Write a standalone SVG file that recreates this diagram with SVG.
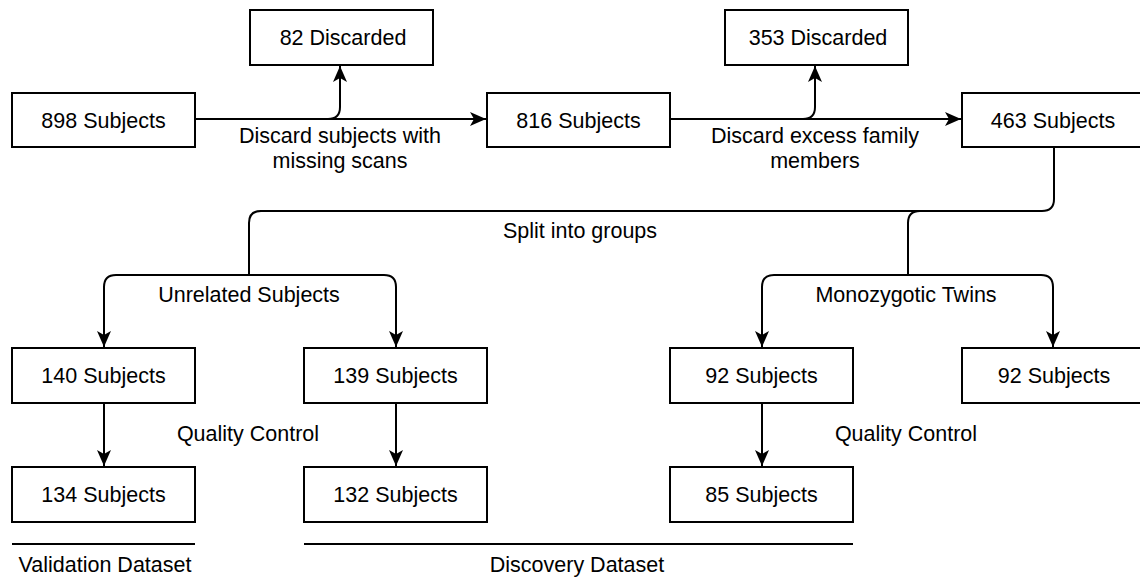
<svg xmlns="http://www.w3.org/2000/svg" width="1140" height="578" viewBox="0 0 1140 578">
<style>
.box{fill:#fff;stroke:#000;stroke-width:2}
.t{font-family:"Liberation Sans",Arial,Helvetica,sans-serif;font-size:21.5px;fill:#000;text-anchor:middle}
.c{fill:none;stroke:#000;stroke-width:2}
.a{marker-end:url(#arr)}
</style>
<defs>
<marker id="arr" viewBox="0 0 16 14" refX="16" refY="7" markerWidth="16" markerHeight="14" markerUnits="userSpaceOnUse" orient="auto">
<path d="M0,0 L16,7 L0,14 L4,7 Z" fill="#000"/>
</marker>
</defs>
<rect width="1140" height="578" fill="#fff"/>
<g id="connectors">
<path class="c a" d="M195,119 H486"/>
<path class="c a" d="M328,119 Q340,119 340,107 V66"/>
<path class="c a" d="M670,119 H961"/>
<path class="c a" d="M803,119 Q815,119 815,107 V66"/>
<path class="c" d="M1054,147 V199 Q1054,211 1042,211 H261 Q249,211 249,223 V275"/>
<path class="c" d="M920,211 Q908,211 908,223 V275"/>
<path class="c a" d="M249,275 H116 Q104,275 104,287 V347"/>
<path class="c a" d="M249,275 H384 Q396,275 396,287 V347"/>
<path class="c a" d="M908,275 H774 Q762,275 762,287 V347"/>
<path class="c a" d="M908,275 H1041 Q1053,275 1053,287 V347"/>
<path class="c a" d="M104,403 V466"/>
<path class="c a" d="M396,403 V466"/>
<path class="c a" d="M762,403 V466"/>
<text class="t" x="340" y="143">Discard subjects with</text>
<text class="t" x="340" y="168">missing scans</text>
<text class="t" x="815" y="143">Discard excess family</text>
<text class="t" x="815" y="168">members</text>
<text class="t" x="580" y="238">Split into groups</text>
<text class="t" x="249" y="302">Unrelated Subjects</text>
<text class="t" x="906" y="302">Monozygotic Twins</text>
<text class="t" x="248" y="441">Quality Control</text>
<text class="t" x="906" y="441">Quality Control</text>
</g>
<g id="n898"><rect class="box" x="12" y="93" width="183" height="54"/><text class="t" x="103.5" y="127.5">898 Subjects</text></g>
<g id="n82"><rect class="box" x="250" y="10" width="183" height="55"/><text class="t" x="343" y="45">82 Discarded</text></g>
<g id="n816"><rect class="box" x="487" y="93" width="183" height="54"/><text class="t" x="578.5" y="127.5">816 Subjects</text></g>
<g id="n353"><rect class="box" x="725" y="10" width="183" height="55"/><text class="t" x="818" y="45">353 Discarded</text></g>
<g id="n463"><rect class="box" x="962" y="93" width="184" height="54"/><text class="t" x="1053" y="127.5">463 Subjects</text></g>
<g id="n140"><rect class="box" x="12" y="348" width="183" height="55"/><text class="t" x="103.5" y="383">140 Subjects</text></g>
<g id="n139"><rect class="box" x="304" y="348" width="183" height="55"/><text class="t" x="395.5" y="383">139 Subjects</text></g>
<g id="n92a"><rect class="box" x="670" y="348" width="183" height="55"/><text class="t" x="761.5" y="383">92 Subjects</text></g>
<g id="n92b"><rect class="box" x="962" y="348" width="184" height="55"/><text class="t" x="1054" y="383">92 Subjects</text></g>
<g id="n134"><rect class="box" x="12" y="467" width="183" height="55"/><text class="t" x="103.5" y="502">134 Subjects</text></g>
<g id="n132"><rect class="box" x="304" y="467" width="183" height="55"/><text class="t" x="395.5" y="502">132 Subjects</text></g>
<g id="n85"><rect class="box" x="670" y="467" width="183" height="55"/><text class="t" x="761.5" y="502">85 Subjects</text></g>
<g id="validation"><line class="c" x1="12" y1="544" x2="195" y2="544"/><text class="t" x="105" y="572">Validation Dataset</text></g>
<g id="discovery"><line class="c" x1="304" y1="544" x2="853" y2="544"/><text class="t" x="577" y="572">Discovery Dataset</text></g>
</svg>
